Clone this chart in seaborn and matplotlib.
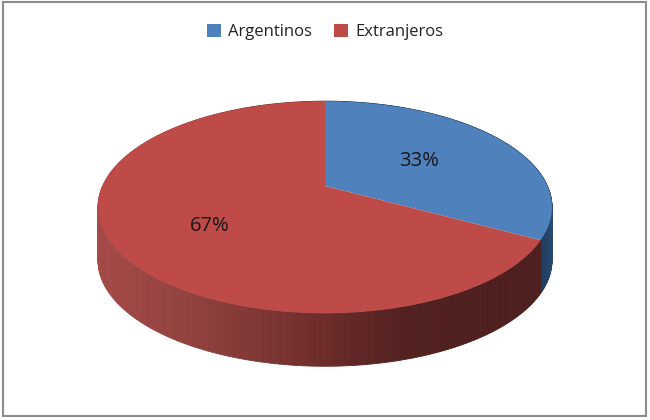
import numpy as np
import matplotlib
matplotlib.use("Agg")
import matplotlib.pyplot as plt
import matplotlib.colors as mcolors
from matplotlib.collections import PolyCollection
from matplotlib.patches import Rectangle
from matplotlib.transforms import Transform
import seaborn as sns

categories = ["Argentinos", "Extranjeros"]
shares = [33, 67]
top_colors = ["#4F81BD", "#BE4B48"]

sns.set_theme(style="white")
plt.rcParams["font.family"] = ["Open Sans", "DejaVu Sans"]
palette = sns.color_palette(top_colors)

W, H = 650, 420
HUB_X, HUB_Y = 325, 186       # pixel of the pie's hub
UNIT_X, UNIT_Y = 222.4, 101.8 # pixels per unit
DEPTH = 53 / UNIT_Y
TILT = 0.2


def project(x, y):
    w = 1 + TILT * y
    return x / w, y / w


class Perspective(Transform):
    input_dims = output_dims = 2
    is_separable = False
    has_inverse = False

    def transform_non_affine(self, values):
        values = np.asarray(values, dtype=float)
        x, y = project(values[:, 0], values[:, 1])
        return np.column_stack([x, y])


fig = plt.figure(figsize=(W / 100, H / 100), dpi=100, facecolor="white")
ax = fig.add_axes([0, 0, 1, 1])

wedges, _, autotexts = ax.pie(
    shares, colors=palette, startangle=90, counterclock=False,
    autopct="%.0f%%", pctdistance=0.5, radius=1,
    wedgeprops={"linewidth": 0, "zorder": 3},
    textprops={"fontsize": 14.5, "color": "#1c1414", "zorder": 5},
)
ax.set_aspect("auto")
ax.set_xlim(-HUB_X / UNIT_X, (W - HUB_X) / UNIT_X)
ax.set_ylim(-(H - HUB_Y) / UNIT_Y, HUB_Y / UNIT_Y)
ax.set_axis_off()

persp = Perspective()
for w in wedges:
    w.set_transform(persp + ax.transData)

# Side wall, one strip per small step along each share's rim
red_x = [98, 200, 280, 330, 400, 552]
red_c = [mcolors.to_rgb(c) for c in ["#A44A48", "#8F403E", "#7A3331", "#6A2B29", "#522120", "#4C1E1D"]]
blue_x = [535, 552]
blue_c = [mcolors.to_rgb(c) for c in ["#1C3554", "#2A4A72"]]


def wall_color(px, xs, cs):
    return [np.interp(px, xs, [c[i] for c in cs]) for i in range(3)]


edges = np.cumsum([0] + shares) / sum(shares) * 2 * np.pi
for k, (a, b) in enumerate(zip(edges[:-1], edges[1:])):
    t = np.linspace(a, b, 240)
    X, Y = project(np.sin(t), np.cos(t))
    polys, cols = [], []
    for i in range(len(t) - 1):
        polys.append([(X[i], Y[i]), (X[i + 1], Y[i + 1]),
                      (X[i + 1], Y[i + 1] - DEPTH), (X[i], Y[i] - DEPTH)])
        px = HUB_X + UNIT_X * (X[i] + X[i + 1]) / 2
        cols.append(wall_color(px, blue_x, blue_c) if k == 0 else wall_color(px, red_x, red_c))
    ax.add_collection(PolyCollection(polys, facecolors=cols, edgecolors=cols,
                                     linewidths=0.6, zorder=2), autolim=False)

# Percent labels
autotexts[0].set_position(((419 - HUB_X) / UNIT_X, (HUB_Y - 161) / UNIT_Y))
autotexts[1].set_position(((210 - HUB_X) / UNIT_X, (HUB_Y - 226) / UNIT_Y))

ax.legend(wedges, categories, loc="center", bbox_to_anchor=(0.5, 1 - 32 / H),
          ncol=2, frameon=False, fontsize=12, handlelength=0.85, handleheight=0.85,
          handletextpad=0.45, columnspacing=1.3, labelcolor="#222222",
          borderaxespad=0, borderpad=0)

fig.add_artist(Rectangle((3 / W, 1 - 416 / H), 643 / W, 414 / H, transform=fig.transFigure,
                         fill=False, edgecolor="#8C8C8C", linewidth=1.5))

fig.savefig("out.png", dpi=100)
